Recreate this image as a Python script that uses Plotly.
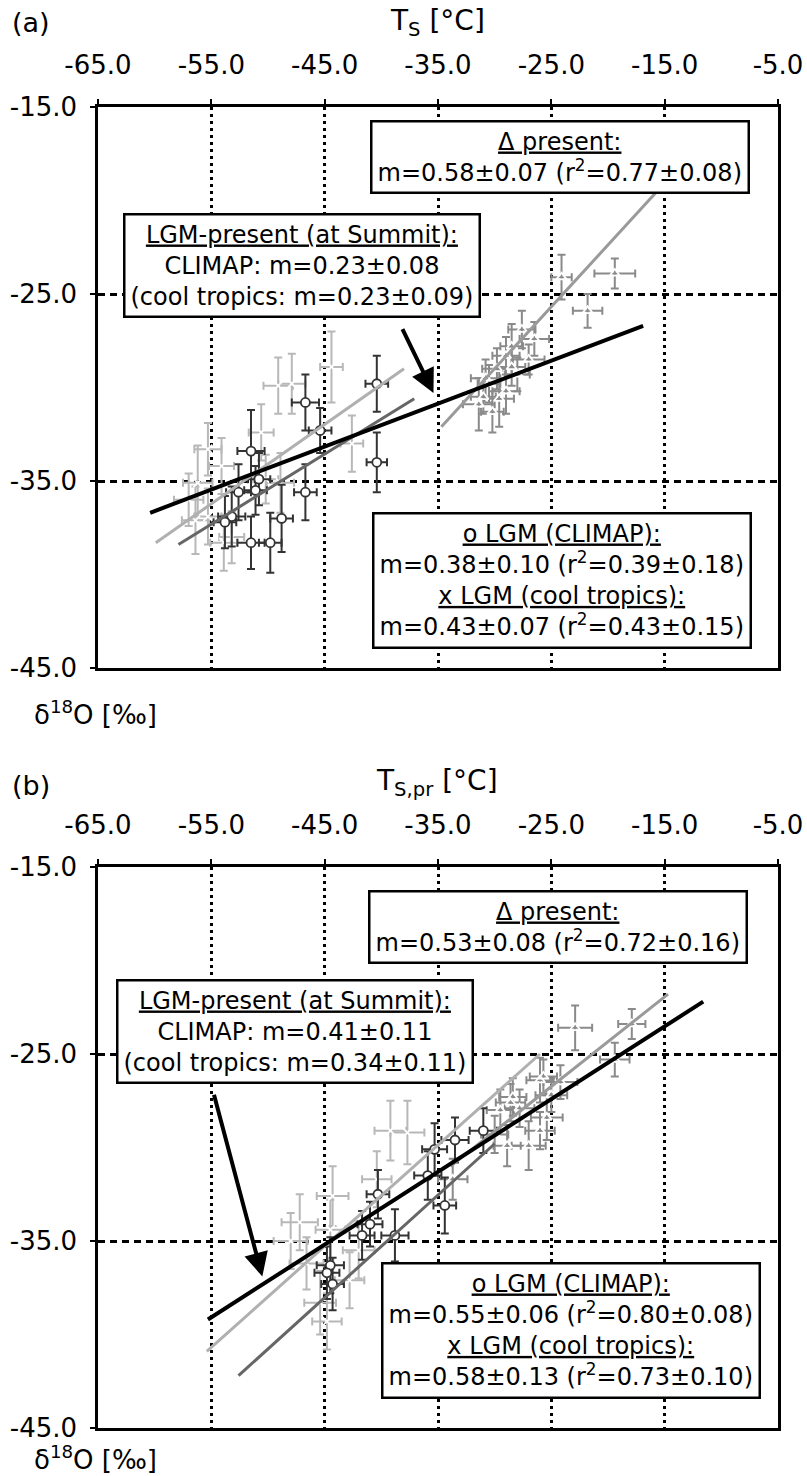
import plotly.graph_objects as go

# ---------------- data ----------------
x_ticks = [-65, -55, -45, -35, -25, -15, -5]
x_ticktext = ["-65.0", "-55.0", "-45.0", "-35.0", "-25.0", "-15.0", "-5.0"]
y_ticks = [-45, -35, -25, -15]
y_ticktext = ["-45.0", "-35.0", "-25.0", "-15.0"]

# Panel (a)
a_pres_T = [-19.4, -24.1, -21.8, -27.6, -26.5, -28.5, -27.0, -29.0, -28.0, -29.8, -30.5, -29.0, -31.0, -29.6, -31.4, -30.2, -28.5, -30.8]
a_pres_d = [-23.9, -24.1, -25.9, -26.9, -27.4, -27.8, -28.5, -28.3, -29.3, -29.0, -29.8, -30.2, -30.5, -30.6, -30.9, -31.3, -28.9, -29.5]
a_pres_eT = [1.8, 0.9, 1.3, 1.2, 1.3, 1.0, 1.4, 1.2, 1.1, 1.3, 1.0, 1.2, 1.1, 1.3, 1.4, 1.0, 1.2, 1.3]
a_pres_ed = [0.8, 1.2, 0.9, 1.0, 0.9, 1.2, 0.8, 1.0, 0.9, 1.1, 1.0, 1.2, 0.9, 1.5, 1.4, 1.1, 1.0, 1.0]

a_clim_T = [-40.4, -40.4, -46.7, -45.4, -51.5, -50.8, -46.7, -52.6, -53.2, -53.8, -48.8, -51.5, -49.8, -51.1]
a_clim_d = [-29.8, -34.0, -30.8, -32.3, -33.4, -34.9, -35.6, -35.6, -36.9, -37.2, -37.0, -38.3, -38.3, -35.5]
a_clim_eT = [1.0, 0.9, 1.2, 1.0, 1.2, 1.0, 1.0, 1.1, 1.2, 1.0, 1.0, 1.2, 1.0, 1.0]
a_clim_ed = [1.5, 1.6, 1.5, 1.2, 2.2, 1.4, 1.5, 1.5, 1.6, 1.4, 1.8, 1.4, 1.6, 1.3]

a_cool_T = [-47.9, -44.4, -49.1, -42.6, -55.3, -56.2, -54.1, -56.4, -53.2, -53.9, -50.2, -48.9, -50.6, -55.3, -57.0]
a_cool_d = [-29.8, -28.9, -29.9, -33.0, -33.3, -35.1, -34.2, -37.1, -38.0, -38.3, -34.9, -35.1, -32.4, -36.9, -36.0]
a_cool_eT = [1.2, 1.0, 1.3, 1.0, 1.2, 1.3, 1.1, 1.2, 1.1, 1.2, 1.1, 1.2, 1.1, 1.2, 1.3]
a_cool_ed = [1.6, 1.9, 1.5, 1.5, 1.4, 2.0, 1.5, 1.8, 1.4, 1.5, 1.3, 1.6, 1.5, 1.5, 1.4]

a_line_black_T = [-60.4, -16.9]
a_line_black_d = [-36.7, -26.7]
a_line_pres_T = [-34.7, -15.2]
a_line_pres_d = [-32.1, -19.2]
a_line_clim_T = [-57.9, -37.1]
a_line_clim_d = [-38.4, -30.6]
a_line_cool_T = [-59.9, -38.0]
a_line_cool_d = [-38.3, -29.0]

# Panel (b)
b_pres_T = [-22.9, -17.9, -19.4, -24.2, -26.0, -25.0, -28.4, -27.8, -25.4, -28.9, -27.0, -26.0, -29.5, -28.6, -25.7, -33.7, -30.0]
b_pres_d = [-23.6, -23.4, -25.3, -26.5, -26.4, -27.2, -27.3, -27.9, -28.4, -29.9, -29.9, -29.1, -28.0, -27.6, -26.2, -31.7, -29.3]
b_pres_eT = [1.5, 1.2, 1.3, 1.5, 1.2, 1.4, 1.2, 1.3, 1.4, 1.2, 1.5, 1.3, 1.2, 1.3, 1.2, 1.3, 1.2]
b_pres_ed = [1.2, 0.8, 0.9, 0.9, 1.2, 0.9, 1.0, 1.0, 1.2, 1.1, 1.3, 1.0, 1.1, 1.0, 0.9, 1.1, 1.0]

b_clim_T = [-31.0, -35.3, -34.4, -35.9, -38.8, -40.3, -41.0, -41.7, -44.5, -44.3, -44.8, -33.5]
b_clim_d = [-29.1, -30.1, -33.1, -31.5, -34.7, -32.5, -34.1, -34.7, -36.3, -37.3, -36.7, -29.6]
b_clim_eT = [1.2, 1.1, 1.0, 1.2, 1.2, 1.0, 1.1, 1.1, 1.2, 1.0, 1.1, 1.2]
b_clim_ed = [1.2, 1.4, 1.5, 1.3, 1.4, 1.3, 1.2, 1.3, 1.5, 1.4, 1.4, 1.2]

b_cool_T = [-37.7, -39.2, -40.4, -44.3, -47.2, -44.5, -46.6, -42.8, -45.4, -44.8, -48.0, -42.0]
b_cool_d = [-29.2, -29.1, -31.7, -32.6, -34.0, -34.4, -36.2, -37.1, -38.3, -39.3, -35.0, -35.5]
b_cool_eT = [1.5, 1.4, 1.3, 1.4, 1.6, 1.3, 1.5, 1.3, 1.4, 1.3, 1.5, 1.4]
b_cool_ed = [1.7, 1.6, 1.5, 1.6, 1.5, 1.6, 1.4, 1.5, 1.7, 1.5, 1.5, 1.5]

b_line_black_T = [-55.3, -11.6]
b_line_black_d = [-39.2, -22.2]
b_line_pres_T = [-33.9, -14.7]
b_line_pres_d = [-31.0, -21.8]
b_line_clim_T = [-52.6, -30.0]
b_line_clim_d = [-42.2, -29.8]
b_line_cool_T = [-55.4, -26.0]
b_line_cool_d = [-40.9, -25.0]

# ---------------- style ----------------
FONT = "DejaVu Sans"
FS = 24
TFS = 26
C_PRES = "#8a8a8a"
C_CLIM = "#333333"
C_COOL = "#b8b8b8"
C_LCLIM = "#666666"
C_LCOOL = "#b0b0b0"
C_LPRES = "#9a9a9a"

fig = go.Figure()


def add_points(T, d, eT, ed, color, symbol, xa, ya):
    fig.add_trace(go.Scatter(
        x=T, y=d, mode="markers", xaxis=xa, yaxis=ya, showlegend=False,
        marker=dict(symbol=symbol, size=9, color="white",
                    line=dict(color=color, width=1.8)),
        error_x=dict(type="data", array=eT, color=color, thickness=2, width=4),
        error_y=dict(type="data", array=ed, color=color, thickness=2, width=4),
    ))


def add_line(T, d, color, width, xa, ya):
    fig.add_trace(go.Scatter(x=T, y=d, mode="lines", xaxis=xa, yaxis=ya,
                             showlegend=False, line=dict(color=color, width=width)))


# panel a
add_points(a_pres_T, a_pres_d, a_pres_eT, a_pres_ed, C_PRES, "triangle-up-open", "x", "y")
add_points(a_cool_T, a_cool_d, a_cool_eT, a_cool_ed, C_COOL, "x-thin-open", "x", "y")
add_points(a_clim_T, a_clim_d, a_clim_eT, a_clim_ed, C_CLIM, "circle", "x", "y")
add_line(a_line_pres_T, a_line_pres_d, C_LPRES, 3, "x", "y")
add_line(a_line_cool_T, a_line_cool_d, C_LCOOL, 3, "x", "y")
add_line(a_line_clim_T, a_line_clim_d, C_LCLIM, 3, "x", "y")
add_line(a_line_black_T, a_line_black_d, "black", 4, "x", "y")

# panel b
add_points(b_pres_T, b_pres_d, b_pres_eT, b_pres_ed, C_PRES, "triangle-up-open", "x2", "y2")
add_points(b_cool_T, b_cool_d, b_cool_eT, b_cool_ed, C_COOL, "x-thin-open", "x2", "y2")
add_points(b_clim_T, b_clim_d, b_clim_eT, b_clim_ed, C_CLIM, "circle", "x2", "y2")
add_line(b_line_pres_T, b_line_pres_d, C_LPRES, 3, "x2", "y2")
add_line(b_line_cool_T, b_line_cool_d, C_LCOOL, 3, "x2", "y2")
add_line(b_line_clim_T, b_line_clim_d, C_LCLIM, 3, "x2", "y2")
add_line(b_line_black_T, b_line_black_d, "black", 4, "x2", "y2")

W, H = 807, 1476
XDOM = [98 / W, 778 / W]
YDOM_A = [1 - 668 / H, 1 - 107 / H]
YDOM_B = [1 - 1428 / H, 1 - 867 / H]

xax = dict(range=[-65, -5], side="top", tickvals=x_ticks, ticktext=x_ticktext,
           showgrid=True, gridcolor="black", griddash="3px,4px", gridwidth=2.5,
           showline=True, mirror=True, linecolor="black", linewidth=2.5,
           ticks="outside", ticklen=5, tickcolor="black", tickwidth=1.5,
           ticklabelstandoff=15, zeroline=False, automargin=False,
           tickfont=dict(family=FONT, size=TFS, color="black"), domain=XDOM)
yax = dict(range=[-45, -15], tickvals=y_ticks, ticktext=y_ticktext,
           showgrid=True, gridcolor="black", griddash="7px,5px", gridwidth=2.5,
           showline=True, mirror=True, linecolor="black", linewidth=2.5,
           ticks="outside", ticklen=5, tickcolor="black", tickwidth=1.5,
           ticklabelstandoff=8, zeroline=False, automargin=False,
           tickfont=dict(family=FONT, size=TFS, color="black"))

fig.update_layout(
    width=W, height=H, margin=dict(l=0, r=0, t=0, b=0),
    paper_bgcolor="white", plot_bgcolor="white",
    xaxis=dict(xax, anchor="y"),
    yaxis=dict(yax, anchor="x", domain=YDOM_A),
    xaxis2=dict(xax, anchor="y2"),
    yaxis2=dict(yax, anchor="x2", domain=YDOM_B),
    font=dict(family=FONT, size=FS, color="black"),
)

ann = []


def paper_text(txt, px, py, xanchor="center", size=FS):
    ann.append(dict(text=txt, x=px / W, y=1 - py / H, xref="paper", yref="paper",
                    xanchor=xanchor, yanchor="middle", showarrow=False,
                    font=dict(family=FONT, size=size, color="black")))


def box(txt, T, d, xa, ya):
    ann.append(dict(text=txt, x=T, y=d, xref=xa, yref=ya, xanchor="center",
                    yanchor="middle", showarrow=False, bgcolor="white",
                    bordercolor="black", borderwidth=2.5, borderpad=5,
                    font=dict(family=FONT, size=FS, color="black")))


def arrow(T0, d0, T1, d1, xa, ya):
    ann.append(dict(text="", x=T1, y=d1, ax=T0, ay=d0, xref=xa, yref=ya,
                    axref=xa, ayref=ya, showarrow=True, arrowhead=2,
                    arrowsize=1.2, arrowwidth=4, arrowcolor="black"))


# labels panel a
paper_text("(a)", 10, 22, xanchor="left", size=27)
paper_text("T<sub>S</sub> [°C]", 437, 22, size=28)
paper_text("δ<sup>18</sup>O [‰]", 32, 713, xanchor="left", size=26)
# labels panel b
paper_text("(b)", 10, 785, xanchor="left", size=27)
paper_text("T<sub>S,pr</sub> [°C]", 437, 782, size=28)
paper_text("δ<sup>18</sup>O [‰]", 32, 1458, xanchor="left", size=26)

box("<u>Δ present:</u><br>m=0.58±0.07 (r<sup>2</sup>=0.77±0.08)", -24.2, -17.7, "x", "y")
box("<u>LGM-present (at Summit):</u><br>CLIMAP: m=0.23±0.08<br>(cool tropics: m=0.23±0.09)", -47.0, -23.5, "x", "y")
box("<u>o LGM (CLIMAP):</u><br>m=0.38±0.10 (r<sup>2</sup>=0.39±0.18)<br><u>x LGM (cool tropics):</u><br>m=0.43±0.07 (r<sup>2</sup>=0.43±0.15)", -24.1, -40.3, "x", "y")
arrow(-38.2, -26.8, -35.4, -30.3, "x", "y")

box("<u>Δ present:</u><br>m=0.53±0.08 (r<sup>2</sup>=0.72±0.16)", -24.4, -18.2, "x2", "y2")
box("<u>LGM-present (at Summit):</u><br>CLIMAP: m=0.41±0.11<br>(cool tropics: m=0.34±0.11)", -47.6, -23.8, "x2", "y2")
box("<u>o LGM (CLIMAP):</u><br>m=0.55±0.06 (r<sup>2</sup>=0.80±0.08)<br><u>x LGM (cool tropics):</u><br>m=0.58±0.13 (r<sup>2</sup>=0.73±0.10)", -23.3, -39.8, "x2", "y2")
arrow(-54.8, -27.1, -50.5, -36.9, "x2", "y2")

fig.update_layout(annotations=ann)
fig.write_html("out.html")
